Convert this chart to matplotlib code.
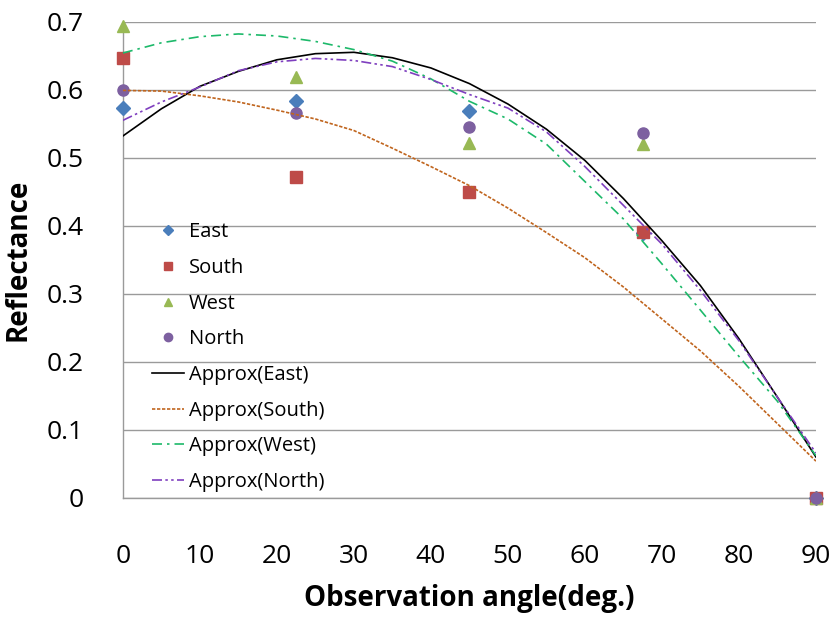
import numpy as np
import matplotlib.pyplot as plt

plt.rcParams['font.family'] = ['Open Sans', 'DejaVu Sans']

# measured points
angles = [0, 22.5, 45, 67.5, 90]
east = [0.573, 0.583, 0.568, 0.39, 0.0]
south = [0.646, 0.471, 0.450, 0.391, 0.0]
west = [0.693, 0.618, 0.521, 0.520, 0.0]
north = [0.600, 0.566, 0.545, 0.537, 0.0]

# approximation curves every 5 deg
fit_x = [0, 5, 10, 15, 20, 25, 30, 35, 40, 45, 50, 55, 60, 65, 70, 75, 80, 85, 90]
fit_east = [0.532, 0.572, 0.605, 0.627, 0.644, 0.653, 0.655, 0.647, 0.632, 0.609,
            0.579, 0.542, 0.496, 0.440, 0.378, 0.312, 0.234, 0.148, 0.060]
fit_south = [0.599, 0.598, 0.591, 0.582, 0.570, 0.557, 0.540, 0.514, 0.487, 0.459,
             0.426, 0.390, 0.353, 0.310, 0.263, 0.216, 0.164, 0.109, 0.054]
fit_west = [0.654, 0.669, 0.678, 0.682, 0.679, 0.671, 0.659, 0.642, 0.616, 0.583,
            0.557, 0.520, 0.465, 0.410, 0.344, 0.276, 0.208, 0.142, 0.062]
fit_north = [0.555, 0.582, 0.604, 0.628, 0.641, 0.646, 0.643, 0.634, 0.615, 0.593,
             0.573, 0.538, 0.487, 0.430, 0.373, 0.305, 0.231, 0.148, 0.066]

fig = plt.figure(figsize=(8.36, 6.2), dpi=100)
ax = fig.add_axes([0.147, 0.197, 0.829, 0.768])

ms = 8
ax.plot(angles, east, 'D', color='#4A7EBB', ms=ms * 0.85, label='East', clip_on=False, zorder=3)
ax.plot(angles, south, 's', color='#BE4B48', ms=ms, label='South', clip_on=False, zorder=3)
ax.plot(angles, west, '^', color='#98B954', ms=ms, label='West', clip_on=False, zorder=3)
ax.plot(angles, north, 'o', color='#7D60A0', ms=ms, label='North', clip_on=False, zorder=3)

ax.plot(fit_x, fit_east, '-', color='black', lw=1.2, label='Approx(East)', zorder=4)
ax.plot(fit_x, fit_south, color='#C0651E', lw=1.2, ls=(0, (2, 1)), label='Approx(South)', zorder=4)
ax.plot(fit_x, fit_west, color='#1DB96A', lw=1.2, ls=(0, (6, 3, 1.5, 3)), label='Approx(West)', zorder=4)
ax.plot(fit_x, fit_north, color='#7F3FBF', lw=1.2, ls=(0, (6, 2, 1.5, 2, 1.5, 2)), label='Approx(North)', zorder=4)

ax.set_xlim(0, 90)
ax.set_ylim(0, 0.7)
ax.set_xticks(range(0, 91, 10))
ax.set_yticks(np.arange(0, 0.71, 0.1))
ax.set_yticklabels(['0', '0.1', '0.2', '0.3', '0.4', '0.5', '0.6', '0.7'])
ax.tick_params(axis='both', length=0, labelsize=19)
ax.tick_params(axis='x', pad=33)
ax.tick_params(axis='y', pad=28)

ax.grid(axis='y', color='#9a9a9a', lw=1)
ax.set_axisbelow(True)
for s in ['top', 'right']:
    ax.spines[s].set_visible(False)
for s in ['left', 'bottom']:
    ax.spines[s].set_color('#9a9a9a')
    ax.spines[s].set_linewidth(1)

ax.set_xlabel('Observation angle(deg.)', fontsize=20, fontweight='bold', labelpad=11)
ax.set_ylabel('Reflectance', fontsize=20, fontweight='bold', labelpad=10)

ax.legend(loc='upper left', bbox_to_anchor=(0.027, 0.6), frameon=False, fontsize=14.5,
          markerscale=0.75, handlelength=1.6, handletextpad=0.25, labelspacing=0.78,
          borderpad=0)

fig.savefig('out.png', dpi=100)
